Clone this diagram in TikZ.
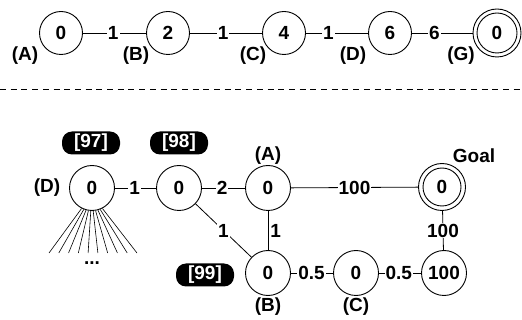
\documentclass[tikz,border=0pt]{standalone}
\usepackage{fontspec}
\setmainfont{Liberation Sans}
\newcommand\myfs{\fontsize{19}{22}\selectfont\bfseries}
\tikzset{
  st/.style={circle, draw, line width=0.9pt, minimum size=43pt, inner sep=0pt, font=\myfs},
  stb/.style={st, minimum size=45pt},
  goalc/.style={st, minimum size=47pt},
  lbl/.style={font=\myfs, inner sep=1pt},
  el/.style={fill=white, inner sep=1pt, font=\myfs},
  tag/.style={fill=black, text=white, rounded corners=10pt, minimum width=58pt, minimum height=23pt, inner sep=0pt, font=\myfs},
  conn/.style={line width=0.8pt}
}
\begin{document}
\begin{tikzpicture}[x=1pt,y=-1pt]
\useasboundingbox (0,0) rectangle (522,320);
% top row
\node[st] (tA) at (61,33) {0};
\node[st] (tB) at (168,33) {2};
\node[st] (tC) at (284,33) {4};
\node[st] (tD) at (390,33) {6};
\node[st, minimum size=48pt] (tG) at (497,33) {0};
\draw[line width=0.9pt] (tG.center) circle[radius=20pt];
\node[lbl] (lA) at (25,56) {(A)};
\node[lbl] (lB) at (136,56) {(B)};
\node[lbl] (lC) at (253,56) {(C)};
\node[lbl] (lD) at (353,56) {(D)};
\node[lbl] (lG) at (461,56) {(G)};
\draw[conn] (tA) -- node[el,pos=0.48]{1} (tB);
\draw[conn] (tB) -- node[el,pos=0.46]{1} (tC);
\draw[conn] (tC) -- node[el,pos=0.36]{1} (tD);
\draw[conn] (tD) -- node[el,pos=0.37]{6} (tG);
% dashed separator
\coordinate (s1) at (0,89);
\coordinate (s2) at (522,89);
\draw[line width=0.8pt, dash pattern=on 6pt off 4.7pt] (s1) -- (s2);
% bottom graph
\node[stb] (bD) at (92,188) {0};
\node[stb] (b98) at (179,188) {0};
\node[stb] (bA) at (268,188) {0};
\node[goalc] (bG) at (442,187) {0};
\draw[line width=0.9pt] (bG.center) circle[radius=19pt];
\node[stb] (bB) at (268,273) {0};
\node[stb] (bC) at (356,273) {0};
\node[stb] (b100) at (444,273) {100};
\node[tag] (t97) at (91,143) {[97]};
\node[tag] (t98) at (179,143) {[98]};
\node[tag] (t99) at (205,275) {[99]};
\node[lbl] (ldD) at (47,188) {(D)};
\node[lbl] (ldA) at (268,156) {(A)};
\node[lbl] (ldB) at (268,307) {(B)};
\node[lbl] (ldC) at (356,307) {(C)};
\node[lbl] (goal) at (474,156) {Goal};
\draw[conn] (bD) -- node[el,pos=0.48]{1} (b98);
\draw[conn] (b98) -- node[el,pos=0.47]{2} (bA);
\draw[conn] (bA) -- node[el,pos=0.5]{100} (bG);
\draw[conn] (bA) -- node[lbl,pos=0.5,right=1pt]{1} (bB);
\draw[conn] (b98) -- node[el,pos=0.5]{1} (bB);
\draw[conn] (bB) -- node[el,pos=0.49]{0.5} (bC);
\draw[conn] (bC) -- node[el,pos=0.47]{0.5} (b100);
\draw[conn] (bG) -- node[el,pos=0.5]{100} (b100);
% fan of edges below (D)
\foreach \i in {0,...,9} {
  \pgfmathsetmacro\ang{243+6*\i}
  \pgfmathsetmacro\ex{49+\i*88/9}
  \coordinate (f\i) at (\ex,253);
  \draw[line width=0.6pt] (bD.\ang) -- (f\i);
}
\node[lbl] (dots) at (92,263) {...};
\end{tikzpicture}
\end{document}
